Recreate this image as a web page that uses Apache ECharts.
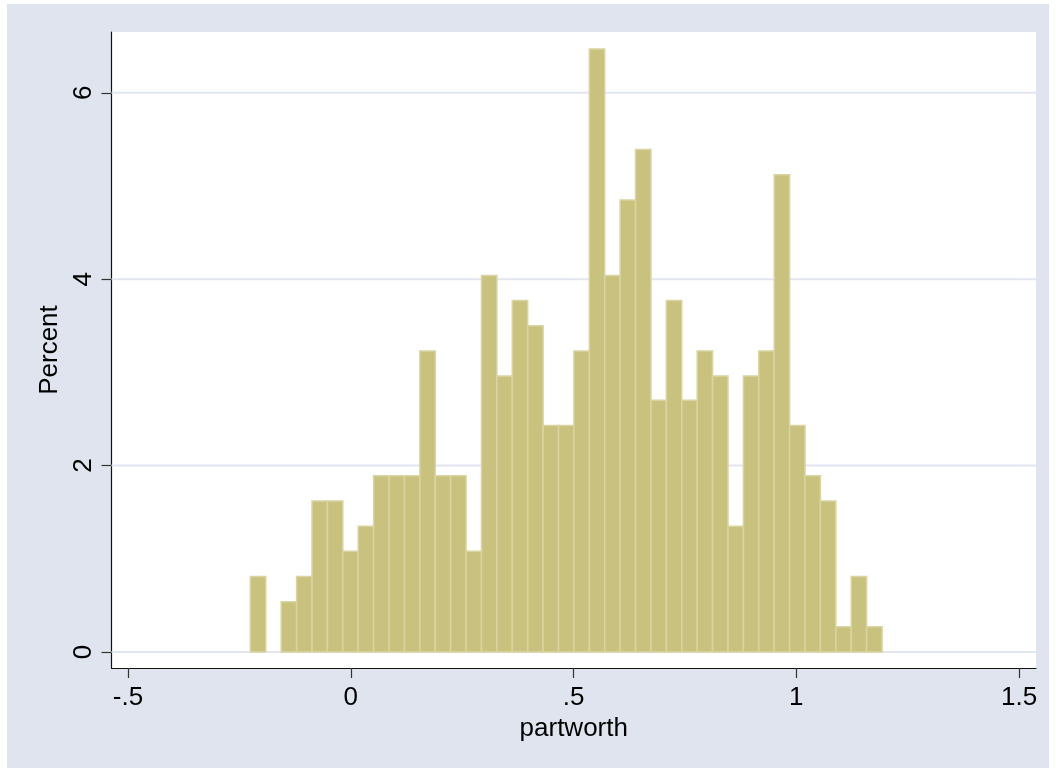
<!DOCTYPE html>
<html>
<head>
<meta charset="utf-8">
<script src="https://cdn.jsdelivr.net/npm/echarts@6/dist/echarts.min.js"></script>
<style>
  html, body { margin: 0; padding: 0; background: #ffffff; }
  #chart { width: 1056px; height: 772px; }
</style>
</head>
<body>
<div id="chart"></div>
<script>
// Histogram of partworth: 41 equal-width bins, heights in percent of observations
const binStart = -0.2253;
const binWidth = 0.03458;
const percent = [
  0.81, 0, 0.54, 0.81, 1.62, 1.62, 1.08, 1.35, 1.89, 1.89,
  1.89, 3.23, 1.89, 1.89, 1.08, 4.04, 2.96, 3.77, 3.50, 2.43,
  2.43, 3.23, 6.47, 4.04, 4.85, 5.39, 2.70, 3.77, 2.70, 3.23,
  2.96, 1.35, 2.96, 3.23, 5.12, 2.43, 1.89, 1.62, 0.27, 0.81,
  0.27
];
const xTicks = [-0.5, 0, 0.5, 1, 1.5];
const yTicks = [0, 2, 4, 6];
const xTitle = 'partworth';
const yTitle = 'Percent';

const X_MIN = -0.537, X_MAX = 1.538;
const Y_MIN = -0.172, Y_MAX = 6.652;

const FONT = "'Liberation Sans', Arial, sans-serif";
const BG = '#dfe4ee';
const FILL = '#c9c27f';
const EDGE = '#d9d4a2';
const GRIDLINE = '#e2e6f0';

// bins as [left edge, right edge, percent]
const bins = percent.map((p, i) => [binStart + i * binWidth, binStart + (i + 1) * binWidth, p]);

// Stata-style number labels: drop the leading zero (.5, -.5)
function stataNum(v) {
  let s = String(Math.round(v * 1000) / 1000);
  return s.replace(/^0\./, '.').replace(/^-0\./, '-.');
}

const chart = echarts.init(document.getElementById('chart'), null, { renderer: 'canvas' });

chart.setOption({
  backgroundColor: '#ffffff',
  animation: false,
  graphic: [{
    type: 'rect',
    z: -10,
    shape: { x: 7, y: 4, width: 1042, height: 764 },
    style: { fill: BG }
  }],
  grid: {
    left: 111.5, top: 32, right: 20, bottom: 104,
    show: true, backgroundColor: '#ffffff', borderWidth: 0,
    outerBoundsMode: 'none'
  },
  xAxis: {
    type: 'value', min: X_MIN, max: X_MAX,
    splitLine: { show: false },
    axisLine: { show: true, onZero: false, lineStyle: { color: '#111', width: 1.2 } },
    axisTick: { show: true, customValues: xTicks, length: 10, lineStyle: { color: '#333', width: 1.2 } },
    axisLabel: {
      customValues: xTicks, formatter: stataNum, margin: 17,
      color: '#000', fontFamily: FONT, fontSize: 26
    },
    name: xTitle, nameLocation: 'middle', nameGap: 46,
    nameTextStyle: { color: '#000', fontFamily: FONT, fontSize: 26 }
  },
  yAxis: {
    type: 'value', min: Y_MIN, max: Y_MAX,
    splitLine: { show: false },
    axisLine: { show: true, onZero: false, lineStyle: { color: '#111', width: 1.2 } },
    axisTick: { show: true, customValues: yTicks, length: 10, lineStyle: { color: '#333', width: 1.2 } },
    axisLabel: {
      customValues: yTicks, formatter: stataNum, margin: 15, rotate: 90,
      color: '#000', fontFamily: FONT, fontSize: 26
    },
    name: yTitle, nameLocation: 'middle', nameGap: 44,
    nameTextStyle: { color: '#000', fontFamily: FONT, fontSize: 26 }
  },
  series: [
    {
      // horizontal grid lines at the y ticks, behind the bars
      type: 'custom', z: 1, silent: true,
      data: yTicks.map(v => [v]),
      renderItem: function (params, api) {
        const a = api.coord([X_MIN, api.value(0)]);
        const b = api.coord([X_MAX, api.value(0)]);
        return {
          type: 'line',
          shape: { x1: a[0], y1: a[1], x2: b[0], y2: b[1] },
          style: { stroke: GRIDLINE, lineWidth: 2 }
        };
      }
    },
    {
      type: 'custom', z: 2, silent: true,
      data: bins,
      encode: { x: [0, 1], y: 2 },
      renderItem: function (params, api) {
        const h = api.value(2);
        if (!h) return null;
        const tl = api.coord([api.value(0), h]);
        const br = api.coord([api.value(1), 0]);
        return {
          type: 'rect',
          shape: { x: tl[0], y: tl[1], width: br[0] - tl[0], height: br[1] - tl[1] },
          style: { fill: FILL, stroke: EDGE, lineWidth: 1.5 }
        };
      }
    }
  ]
});
</script>
</body>
</html>
